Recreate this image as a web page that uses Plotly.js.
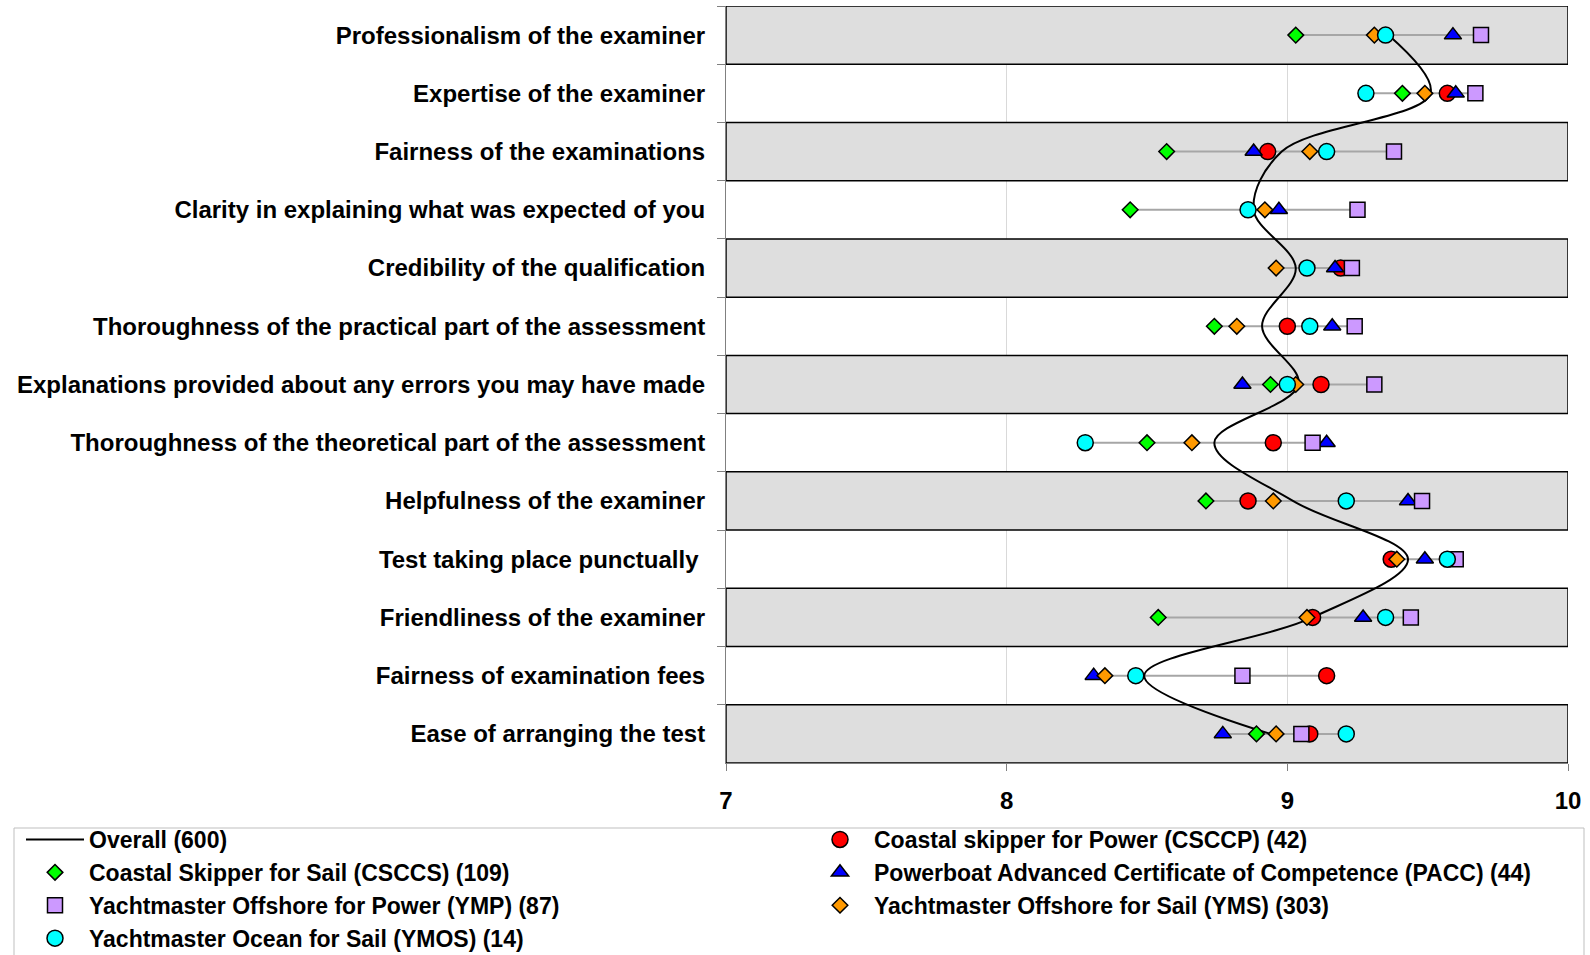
<!DOCTYPE html>
<html>
<head>
<meta charset="utf-8">
<script src="https://cdn.plot.ly/plotly-3.0.1.min.js"></script>
<style>html,body{margin:0;padding:0;background:#fff;}#chart{width:1590px;height:955px;}</style>
</head>
<body>
<div id="chart"></div>
<script>
const categories = [
  "Professionalism of the examiner",
  "Expertise of the examiner",
  "Fairness of the examinations",
  "Clarity in explaining what was expected of you",
  "Credibility of the qualification",
  "Thoroughness of the practical part of the assessment",
  "Explanations provided about any errors you may have made",
  "Thoroughness of the theoretical part of the assessment",
  "Helpfulness of the examiner",
  "Test taking place punctually ",
  "Friendliness of the examiner",
  "Fairness of examination fees",
  "Ease of arranging the test"
];
const overall = [9.36, 9.51, 8.98, 8.88, 9.03, 8.91, 9.04, 8.74, 9.02, 9.43, 9.09, 8.49, 8.94];
const csccs   = [9.03, 9.41, 8.57, 8.44, null, 8.74, 8.94, 8.50, 8.71, null, 8.54, null, 8.89];
const csccp   = [null, 9.57, 8.93, null, 9.19, 9.00, 9.12, 8.95, 8.86, 9.37, 9.09, 9.14, 9.08];
const pacc    = [9.59, 9.60, 8.88, 8.97, 9.17, 9.16, 8.84, 9.14, 9.43, 9.49, 9.27, 8.31, 8.77];
const ymp     = [9.69, 9.67, 9.38, 9.25, 9.23, 9.24, 9.31, 9.09, 9.48, 9.60, 9.44, 8.84, 9.05];
const yms     = [9.31, 9.49, 9.08, 8.92, 8.96, 8.82, 9.03, 8.66, 8.95, 9.39, 9.07, 8.35, 8.96];
const ymos    = [9.35, 9.28, 9.14, 8.86, 9.07, 9.08, 9.00, 8.28, 9.21, 9.57, 9.35, 8.46, 9.21];
const xTicks = [7, 8, 9, 10];

const FONT = "Liberation Sans, Arial, sans-serif";
const FS = 24;
const LFS = 23;
const allSeries = [csccs, csccp, pacc, ymp, yms, ymos];

// range (min-max) connector lines per category
const rx = [], ry = [];
categories.forEach((c, i) => {
  const vals = allSeries.map(s => s[i]).filter(v => v !== null);
  rx.push(Math.min(...vals), Math.max(...vals), null);
  ry.push(c, c, null);
});

// alternating shaded bands
const bandCats = categories.filter((c, i) => i % 2 === 0);

const mk = (name, vals, symbol, color, size, rank) => ({
  type: 'scatter', mode: 'markers', name: name, x: vals, y: categories,
  legendrank: rank,
  marker: {symbol: symbol, color: color, size: size, line: {color: '#000', width: 1.5}},
  hoverinfo: 'skip'
});

const traces = [
  {type: 'bar', orientation: 'h', y: bandCats, x: bandCats.map(() => xTicks[3] - xTicks[0]), base: xTicks[0],
   width: 1, marker: {color: '#DEDEDE', line: {color: '#000', width: 1.5}}, showlegend: false, hoverinfo: 'skip'},
  {type: 'scatter', mode: 'lines', x: rx, y: ry, line: {color: '#A6A6A6', width: 2},
   showlegend: false, hoverinfo: 'skip', connectgaps: false},
  {type: 'scatter', mode: 'lines', name: 'Overall (600)', x: overall, y: categories, legendrank: 1,
   line: {color: '#000', width: 2, shape: 'spline', smoothing: 1}, hoverinfo: 'skip'},
  mk('Coastal skipper for Power (CSCCP) (42)', csccp, 'circle', '#FF0000', 16, 2),
  mk('Coastal Skipper for Sail (CSCCS) (109)', csccs, 'diamond', '#00FF00', 12, 3),
  mk('Powerboat Advanced Certificate of Competence (PACC) (44)', pacc, 'triangle-up', '#0000FF', 15, 4),
  mk('Yachtmaster Offshore for Power (YMP) (87)', ymp, 'square', '#CC99FF', 15, 5),
  mk('Yachtmaster Offshore for Sail (YMS) (303)', yms, 'diamond', '#FF9900', 12, 6),
  mk('Yachtmaster Ocean for Sail (YMOS) (14)', ymos, 'circle', '#00FFFF', 16, 7)
];

const L = 726, R = 22, T = 6, B = 192, W = 1590, H = 955;
const pw = W - L - R, ph = H - T - B;
const px = v => (v - L) / pw, py = v => (H - B - v) / ph;

const ITEMW = 58;
const layout = {
  width: W, height: H,
  margin: {l: L, r: R, t: T, b: B, pad: 0, autoexpand: false},
  paper_bgcolor: '#fff', plot_bgcolor: '#fff',
  font: {family: FONT, size: FS, color: '#000', weight: 'bold'},
  hovermode: false,
  barmode: 'overlay',
  xaxis: {
    range: [xTicks[0], xTicks[3]], tickvals: xTicks, ticktext: xTicks.map(String),
    showgrid: true, gridcolor: '#D9D9D9', gridwidth: 1,
    zeroline: false, showline: true, linecolor: '#808080', linewidth: 1,
    ticks: 'outside', ticklen: 7, tickcolor: '#808080', ticklabelstandoff: 9,
    tickfont: {family: FONT, size: FS, color: '#000', weight: 'bold'}, fixedrange: true
  },
  yaxis: {
    type: 'category', categoryorder: 'array', categoryarray: categories,
    range: [categories.length - 0.5, -0.5],
    tickson: 'boundaries', ticks: 'outside', ticklen: 8, tickcolor: '#808080',
    showgrid: false, zeroline: false, showline: true, linecolor: '#808080', linewidth: 1,
    ticklabelstandoff: 15,
    tickfont: {family: FONT, size: FS, color: '#000', weight: 'bold'}, fixedrange: true
  },
  showlegend: true,
  legend: {
    orientation: 'h', xref: 'paper', yref: 'paper',
    x: px(21), y: py(818), xanchor: 'left', yanchor: 'top',
    itemwidth: ITEMW,
    entrywidthmode: 'pixels', entrywidth: 780 - ITEMW - 10, traceorder: 'normal',
    font: {family: FONT, size: LFS, color: '#000', weight: 'bold'},
    bgcolor: 'rgba(0,0,0,0)', borderwidth: 0, itemclick: false, itemdoubleclick: false
  },
  shapes: [
    {type: 'rect', xref: 'paper', yref: 'paper', x0: px(14), x1: px(1584), y0: py(962), y1: py(828),
     line: {color: '#BFBFBF', width: 1}, fillcolor: 'rgba(0,0,0,0)', layer: 'above'}
  ]
};

Plotly.newPlot('chart', traces, layout, {displayModeBar: false, staticPlot: true});
</script>
</body>
</html>
